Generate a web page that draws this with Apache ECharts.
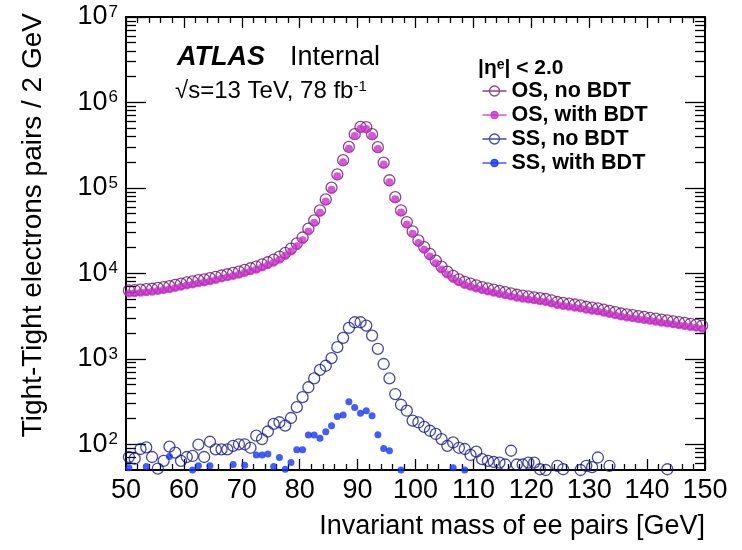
<!DOCTYPE html>
<html><head><meta charset="utf-8">
<script src="https://cdn.jsdelivr.net/npm/echarts@6/dist/echarts.min.js"></script>
<style>html,body{margin:0;padding:0;background:#fff}#c{width:742px;height:550px}</style>
</head><body><div id="c"></div>
<script>
// Bin centres (GeV)
const massCenters = [50.5,51.5,52.5,53.5,54.5,55.5,56.5,57.5,58.5,59.5,60.5,61.5,62.5,63.5,64.5,65.5,66.5,67.5,68.5,69.5,
70.5,71.5,72.5,73.5,74.5,75.5,76.5,77.5,78.5,79.5,80.5,81.5,82.5,83.5,84.5,85.5,86.5,87.5,88.5,89.5,
90.5,91.5,92.5,93.5,94.5,95.5,96.5,97.5,98.5,99.5,100.5,101.5,102.5,103.5,104.5,105.5,106.5,107.5,108.5,109.5,
110.5,111.5,112.5,113.5,114.5,115.5,116.5,117.5,118.5,119.5,120.5,121.5,122.5,123.5,124.5,125.5,126.5,127.5,128.5,129.5,
130.5,131.5,132.5,133.5,134.5,135.5,136.5,137.5,138.5,139.5,140.5,141.5,142.5,143.5,144.5,145.5,146.5,147.5,148.5,149.5];

const osNoBDT = [6310,6380,6460,6530,6610,6760,6920,7080,7330,7590,7850,8040,8320,8510,8810,9120,9440,9770,10120,10470,
10960,11480,12020,12740,13490,14450,15670,17380,19500,22390,26300,33300,41700,54600,73400,100700,144000,211000,302000,425000,
518000,515000,425000,300000,198000,123000,78000,54600,39800,31000,24300,20300,16900,14100,12000,10500,9330,8510,7940,7590,
7240,6920,6680,6460,6240,6030,5820,5620,5500,5370,5250,5130,5010,4840,4620,4520,4420,4320,4220,4070,
3980,3890,3760,3630,3510,3390,3310,3240,3160,3090,3020,2950,2880,2820,2750,2690,2630,2570,2510,2450];

const osWithBDT = [5800,5870,5940,6010,6080,6220,6370,6510,6740,6980,7220,7400,7650,7830,8110,8390,8680,8990,9310,9630,
10080,10560,11060,11720,12410,13290,14420,15990,18000,20700,24400,31000,39000,51300,69200,95300,136500,200000,287000,404000,
492000,490000,404000,285000,188000,116500,73700,51500,37400,29000,22700,18900,15700,13100,11100,9700,8620,7850,7320,6990,
6670,6370,6150,5950,5740,5550,5360,5170,5060,4940,4830,4720,4610,4450,4250,4160,4070,3970,3880,3740,
3660,3580,3460,3340,3230,3120,3050,2980,2910,2840,2780,2710,2650,2590,2530,2470,2420,2360,2310,2250];

const ssNoBDT = [71,68,88,92,71,52,64,94,80,64,71,73,99,71,107,87,87,87,96,100,
100,91,126,115,141,173,181,165,203,272,356,465,590,741,830,1020,1370,1760,2300,2680,
2680,2450,1870,1310,870,590,387,290,247,189,180,160,144,132,115,96,105,91,88,75,
82,67,64,62,61,58,84,58,58,61,61,51,50,null,56,51,null,null,50,56,
54,70,null,56,null,null,null,null,null,null,null,null,null,51,null,null,null,null,null,null];

const ssWithBDT = [53,null,null,55,null,null,null,72,null,null,null,50,56,null,56,null,null,null,58,null,
57,null,75,75,77,55,70,51,61,86,86,128,128,118,140,165,212,220,315,270,
230,247,216,129,89,84,null,50,null,null,null,null,null,null,null,null,53,null,50,null,
null,null,null,null,null,null,null,null,null,null,null,null,null,null,null,null,null,null,null,null,
null,null,null,null,null,null,null,null,null,null,null,null,null,null,null,null,null,null,null,null];

const seriesNames = ['OS, no BDT','OS, with BDT','SS, no BDT','SS, with BDT'];
const yTickValues = [1e2,1e3,1e4,1e5,1e6,1e7];
const yTickExponents = ['2','3','4','5','6','7'];
const yMinorTickValues = [60,70,80,90,200,300,400,500,600,700,800,900,2000,3000,4000,5000,6000,7000,8000,9000,
20000,30000,40000,50000,60000,70000,80000,90000,2e5,3e5,4e5,5e5,6e5,7e5,8e5,9e5,2e6,3e6,4e6,5e6,6e6,7e6,8e6,9e6];

const FONT = "'Liberation Sans', Arial, Helvetica, sans-serif";
const C_OS0 = '#6c176e', C_OS1 = '#c82fca', C_SS0 = '#1a1a8c', C_SS1 = '#1434fa';

function pts(vals){
  const out = [];
  vals.forEach((v,i)=>{ if (v !== null) out.push([massCenters[i], v]); });
  return out;
}
const yMin = 50, yMax = 1e7;
function yAx(pos, major, showLine){
  return {
    type:'log', logBase:10, min:yMin, max:yMax, position:pos,
    axisLine:{show:showLine, lineStyle:{color:'#000', width:2}},
    axisTick:{show:true, inside:true, length: major?20:10, customValues: major?yTickValues:yMinorTickValues, lineStyle:{color:'#000', width:1.3}},
    minorTick:{show:false}, splitLine:{show:false},
    axisLabel: (pos==='left' && major) ? {
      show:true, customValues:yTickValues, margin:8, color:'#000',
      formatter: function(v){
        const e = Math.round(Math.log10(v));
        const idx = yTickValues.findIndex(t => Math.round(Math.log10(t)) === e);
        return '{b|10}{s|' + yTickExponents[idx] + '}';
      },
      rich:{ b:{fontSize:27, fontFamily:FONT, color:'#000'}, s:{fontSize:17, fontFamily:FONT, color:'#000', verticalAlign:'top', padding:[0,0,0,1]} }
    } : {show:false}
  };
}
function xAx(pos){
  return {
    type:'value', min:50, max:150, interval:10, position:pos,
    axisLine:{show:true, onZero:false, lineStyle:{color:'#000', width:2}},
    axisTick:{show:true, inside:true, length:11, lineStyle:{color:'#000', width:1.3}},
    minorTick:{show:true, splitNumber:5, length:6, lineStyle:{color:'#000', width:1.3}},
    splitLine:{show:false},
    axisLabel: pos==='bottom' ? {show:true, fontSize:27, fontFamily:FONT, color:'#000', margin:7} : {show:false}
  };
}
const hollow = 'path://M0,5L24,5M7,5A5,5 0 1,0 17,5A5,5 0 1,0 7,5Z';
const filled = 'path://M0,5L24,5M8.3,5A3.7,3.7 0 1,0 15.7,5A3.7,3.7 0 1,0 8.3,5Z';

const chart = echarts.init(document.getElementById('c'), null, {renderer:'canvas'});
chart.setOption({
  animation:false,
  backgroundColor:'#fff',
  grid:{left:126, right:37, top:17, bottom:80},
  xAxis:[xAx('bottom'), xAx('top')],
  yAxis:[yAx('left',true,true), yAx('left',false,false), yAx('right',true,true), yAx('right',false,false)],
  legend:{
    orient:'vertical', left:480, top:80, padding:0, itemWidth:24, itemHeight:11, itemGap:2,
    selectedMode:false, symbolKeepAspect:true,
    textStyle:{fontSize:21.5, fontWeight:'bold', fontFamily:FONT, color:'#000', lineHeight:22},
    data:[
      {name:seriesNames[0], icon:hollow, itemStyle:{color:'none', borderColor:C_OS0, borderWidth:1.3}},
      {name:seriesNames[1], icon:filled, itemStyle:{color:C_OS1, borderColor:C_OS1, borderWidth:1.3}},
      {name:seriesNames[2], icon:hollow, itemStyle:{color:'none', borderColor:C_SS0, borderWidth:1.3}},
      {name:seriesNames[3], icon:filled, itemStyle:{color:C_SS1, borderColor:C_SS1, borderWidth:1.3}}
    ]
  },
  graphic:[
    {type:'text', left:177, top:44, style:{text:'ATLAS', font:"italic bold 27px "+FONT, fill:'#000'}},
    {type:'text', left:290, top:44, style:{text:'Internal', font:"27px "+FONT, fill:'#000'}},
    {type:'text', left:175, top:79, style:{text:'√s=13 TeV, 78 fb{s|-1}', font:"24px "+FONT, fill:'#000',
      rich:{s:{fontSize:15, fontFamily:FONT, fill:'#000', verticalAlign:'top'}}}},
    {type:'text', left:478, top:58, style:{text:'|η{s|e}| < 2.0', font:"bold 21px "+FONT, fill:'#000',
      rich:{s:{fontSize:14, fontWeight:'bold', fontFamily:FONT, fill:'#000', verticalAlign:'top'}}}},
    {type:'text', x:705, y:527, style:{text:'Invariant mass of ee pairs [GeV]', font:"27px "+FONT, fill:'#000', align:'right', verticalAlign:'middle'}},
    {type:'text', x:33, y:13, rotation:Math.PI/2, style:{text:'Tight-Tight electrons pairs / 2 GeV', font:"28px "+FONT, fill:'#000', align:'right', verticalAlign:'middle'}}
  ],
  series:[
    {name:seriesNames[0], type:'scatter', data:pts(osNoBDT), symbol:'circle', symbolSize:11, silent:true, z:2,
      itemStyle:{color:'rgba(0,0,0,0)', borderColor:C_OS0, borderWidth:1.3}},
    {name:seriesNames[1], type:'scatter', data:pts(osWithBDT), symbol:'circle', symbolSize:8, silent:true, z:3,
      itemStyle:{color:C_OS1}},
    {name:seriesNames[2], type:'scatter', data:pts(ssNoBDT), symbol:'circle', symbolSize:11, silent:true, z:2,
      itemStyle:{color:'rgba(0,0,0,0)', borderColor:C_SS0, borderWidth:1.3}},
    {name:seriesNames[3], type:'scatter', data:pts(ssWithBDT), symbol:'circle', symbolSize:7, silent:true, z:3,
      itemStyle:{color:C_SS1}}
  ]
});
</script></body></html>
